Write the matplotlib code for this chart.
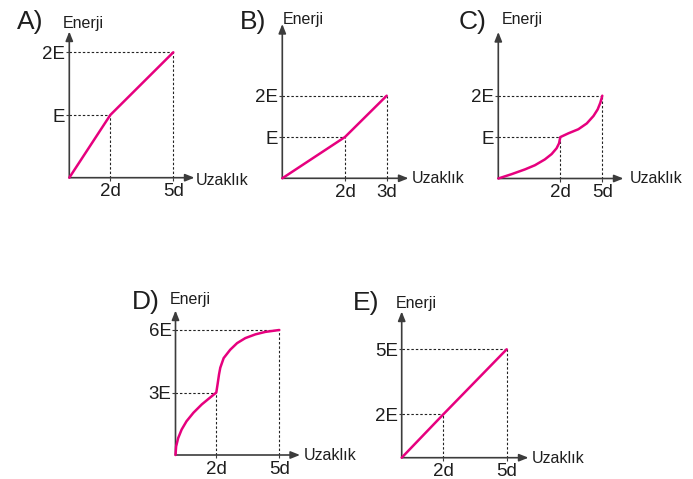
import numpy as np
import matplotlib
matplotlib.use("Agg")
import matplotlib.pyplot as plt

plt.rcParams["font.family"] = ["Liberation Sans", "DejaVu Sans"]

# ---- data: energy versus distance for each option ----
A_dist = [0, 2, 5]
A_energy = [0, 1, 2]
A_xticks, A_xlabels = [2, 5], ["2d", "5d"]
A_yticks, A_ylabels = [1, 2], ["E", "2E"]

B_dist = [0, 2, 3]
B_energy = [0, 1, 2]
B_xticks, B_xlabels = [2, 3], ["2d", "3d"]
B_yticks, B_ylabels = [1, 2], ["E", "2E"]

C_dist = [0, 0.43, 0.86, 1.18, 1.5, 1.72, 1.88, 1.96, 2,
          2.57, 3.29, 3.89, 4.37, 4.67, 4.86, 5]
C_energy = [0, 0.105, 0.22, 0.32, 0.46, 0.59, 0.73, 0.85, 1,
            1.09, 1.19, 1.33, 1.51, 1.67, 1.83, 2]
C_xticks, C_xlabels = [2, 5], ["2d", "5d"]
C_yticks, C_ylabels = [1, 2], ["E", "2E"]

D_dist = [0, 0.03, 0.13, 0.3, 0.54, 0.88, 1.29, 1.7, 2,
          2.06, 2.13, 2.19, 2.35, 2.66, 2.99, 3.38, 3.86, 4.34, 5]
D_energy = [0, 0.41, 0.81, 1.22, 1.62, 2.03, 2.43, 2.76, 3,
            3.39, 3.87, 4.19, 4.65, 5.05, 5.37, 5.61, 5.79, 5.91, 6]
D_xticks, D_xlabels = [2, 5], ["2d", "5d"]
D_yticks, D_ylabels = [3, 6], ["3E", "6E"]

E_dist = [0, 2, 5]
E_energy = [0, 2, 5]
E_xticks, E_xlabels = [2, 5], ["2d", "5d"]
E_yticks, E_ylabels = [2, 5], ["2E", "5E"]

panels = [
    ("A)", A_dist, A_energy, A_xticks, A_xlabels, A_yticks, A_ylabels),
    ("B)", B_dist, B_energy, B_xticks, B_xlabels, B_yticks, B_ylabels),
    ("C)", C_dist, C_energy, C_xticks, C_xlabels, C_yticks, C_ylabels),
    ("D)", D_dist, D_energy, D_xticks, D_xlabels, D_yticks, D_ylabels),
    ("E)", E_dist, E_energy, E_xticks, E_xlabels, E_yticks, E_ylabels),
]

# ---- layout in pixels (origin, tick pixel positions, arrow tips, text anchors) ----
W, H = 693, 479
layout = {
    "A)": dict(origin=(69.3, 177.7), xpix=[110.3, 173.3], ypix=[115.3, 52.3],
               ytip=31.5, xtip=194.5, letter=(16.7, 29.3), ylab=(63, 27.7), xlab=(196, 185)),
    "B)": dict(origin=(282.3, 178.3), xpix=[345, 386.7], ypix=[137, 95.7],
               ytip=24, xtip=408.5, letter=(240, 29.3), ylab=(283, 24), xlab=(411.7, 182.7)),
    "C)": dict(origin=(498.3, 178.5), xpix=[560.3, 602.3], ypix=[137, 95.7],
               ytip=32, xtip=623.5, letter=(458.3, 28.5), ylab=(501.7, 24.3), xlab=(629.3, 182.7)),
    "D)": dict(origin=(175.5, 455), xpix=[216.3, 279.3], ypix=[393.3, 330],
               ytip=310.5, xtip=300, letter=(131.7, 309.3), ylab=(170, 304.3), xlab=(303.3, 460)),
    "E)": dict(origin=(401.7, 457.7), xpix=[443.3, 506.7], ypix=[414, 349.3],
               ytip=311.5, xtip=528.5, letter=(352.7, 310), ylab=(396, 308.3), xlab=(531.7, 462.7)),
}

LINE = "#E6007E"
AXIS = "#3c3c3c"
GUIDE = "#222222"
TEXT = "#1e1e1e"


def fx(px):
    return px / W


def fy(py):
    return 1 - py / H


fig = plt.figure(figsize=(W / 100, H / 100), dpi=100)
fig.patch.set_facecolor("white")

for name, dist, energy, xt, xl, yt, yl in panels:
    L = layout[name]
    ox, oy = L["origin"]
    x_last = L["xpix"][-1]
    y_last = L["ypix"][-1]
    ax = fig.add_axes([fx(ox), fy(oy), (x_last - ox) / W, (oy - y_last) / H])

    # piecewise distance axis so the tick spacing follows the sketch
    tick_vals = [0] + list(xt)
    tick_frac = [0] + [(p - ox) / (x_last - ox) for p in L["xpix"]]

    def fwd(v, tv=tick_vals, tf=tick_frac):
        return np.interp(v, tv, tf)

    def inv(v, tv=tick_vals, tf=tick_frac):
        return np.interp(v, tf, tv)

    ax.set_xscale("function", functions=(fwd, inv))
    ax.set_xlim(0, xt[-1])
    ax.set_ylim(0, yt[-1])
    ax.patch.set_visible(False)
    for s in ax.spines.values():
        s.set_visible(False)

    # dotted guide lines from each labelled point to both axes
    for xv, yv in zip(xt, yt):
        ax.plot([0, xv], [yv, yv], ls=(0, (2.2, 1.8)), lw=0.8, color=GUIDE,
                clip_on=False, zorder=2)
        ax.plot([xv, xv], [0, yv], ls=(0, (2.2, 1.8)), lw=0.8, color=GUIDE,
                clip_on=False, zorder=2)

    ax.plot(dist, energy, color=LINE, lw=1.8, solid_joinstyle="round",
            solid_capstyle="round", clip_on=False, zorder=5)

    ax.set_xticks(xt)
    ax.set_xticklabels(xl)
    ax.set_yticks(yt)
    ax.set_yticklabels(yl)
    ax.tick_params(axis="both", length=2.2, width=0.8, color=AXIS,
                   labelsize=13.5, labelcolor=TEXT)
    ax.tick_params(axis="x", pad=1.8)
    ax.tick_params(axis="y", pad=0.6)

    # axis arrows
    arrow = dict(arrowstyle="-|>,head_length=0.55,head_width=0.22", lw=1.2,
                 color=AXIS, shrinkA=0, shrinkB=0, mutation_scale=10)
    ax.annotate("", xy=(fx(ox), fy(L["ytip"])), xytext=(fx(ox), fy(oy)),
                xycoords="figure fraction", textcoords="figure fraction",
                arrowprops=arrow, zorder=3)
    ax.annotate("", xy=(fx(L["xtip"]), fy(oy)), xytext=(fx(ox), fy(oy)),
                xycoords="figure fraction", textcoords="figure fraction",
                arrowprops=arrow, zorder=3)

    # labels
    fig.text(fx(L["letter"][0]), fy(L["letter"][1]), name, fontsize=19,
             color=TEXT, ha="left", va="baseline")
    fig.text(fx(L["ylab"][0]), fy(L["ylab"][1]), "Enerji", fontsize=11.5,
             color=TEXT, ha="left", va="baseline")
    fig.text(fx(L["xlab"][0]), fy(L["xlab"][1]), "Uzaklık", fontsize=11.5,
             color=TEXT, ha="left", va="baseline")

fig.savefig("out.png", dpi=100, facecolor="white")
